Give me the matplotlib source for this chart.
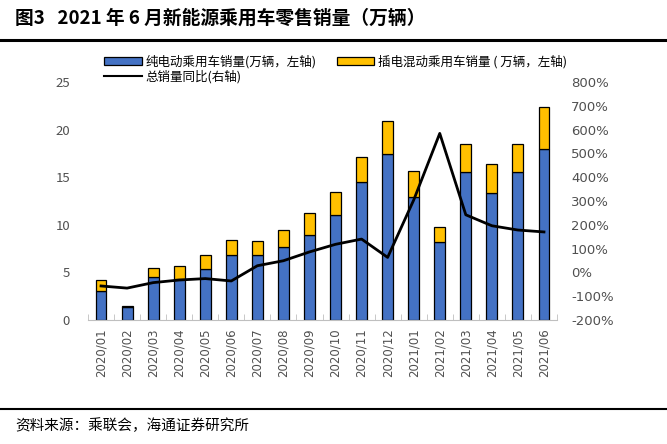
import matplotlib
matplotlib.use("Agg")
import matplotlib.pyplot as plt
import numpy as np
from matplotlib.lines import Line2D
from matplotlib.patches import Patch

plt.rcParams['font.family'] = ['Noto Sans CJK SC', 'DejaVu Sans']

months = ["2020/01", "2020/02", "2020/03", "2020/04", "2020/05", "2020/06",
          "2020/07", "2020/08", "2020/09", "2020/10", "2020/11", "2020/12",
          "2021/01", "2021/02", "2021/03", "2021/04", "2021/05", "2021/06"]
bev = [3.05, 1.4, 4.5, 4.3, 5.35, 6.8, 6.8, 7.65, 8.95, 11.0, 14.5, 17.4,
       12.9, 8.2, 15.5, 13.3, 15.5, 18.0]
total = [4.2, 1.45, 5.5, 5.7, 6.8, 8.4, 8.3, 9.5, 11.2, 13.4, 17.1, 20.9,
         15.65, 9.8, 18.5, 16.35, 18.5, 22.4]
phev = [t - b for t, b in zip(total, bev)]
yoy = [-57, -66, -43, -32, -26, -36, 28, 49, 86, 118, 140, 63,
       304, 584, 242, 196, 178, 170]

fig = plt.figure(figsize=(6.67, 4.44), dpi=100)
ax = fig.add_axes([88/667, 1-320/444, (557-88)/667, (320-82)/444])
x = np.arange(len(months))
w = 0.42
ax.bar(x, bev, w, color='#4472C4', edgecolor='black', linewidth=0.9, zorder=2)
ax.bar(x, phev, w, bottom=bev, color='#FFC000', edgecolor='black', linewidth=0.9, zorder=2)
ax.set_ylim(0, 25)
ax.set_yticks([0, 5, 10, 15, 20, 25])
ax.set_xlim(-0.5, len(months) - 0.5)
ax.set_xticks(x)
ax.set_xticklabels(months, rotation=90, fontsize=8.5, color='#505050', family='DejaVu Sans')
ax.set_xticks(np.arange(-0.5, len(months), 1), minor=True)
ax.tick_params(axis='x', which='major', length=0, pad=6)
ax.tick_params(axis='x', which='minor', length=4, color='#bfbfbf', direction='in')
ax.tick_params(axis='y', length=0, labelsize=9.5, labelcolor='#505050', pad=13)
for s in ['top', 'right', 'left']:
    ax.spines[s].set_visible(False)
ax.spines['bottom'].set_color('#bfbfbf')

ax2 = ax.twinx()
ax2.plot(x, yoy, color='black', linewidth=2, zorder=3)
ax2.set_ylim(-200, 800)
ax2.set_yticks(range(-200, 801, 100))
ax2.set_yticklabels([f"{v}%" for v in range(-200, 801, 100)], family='DejaVu Sans')
ax2.tick_params(axis='y', length=0, labelsize=9.5, labelcolor='#505050', pad=10)
for s in ['top', 'right', 'left', 'bottom']:
    ax2.spines[s].set_visible(False)

h1 = Patch(facecolor='#4472C4', edgecolor='black', linewidth=0.9)
h2 = Patch(facecolor='#FFC000', edgecolor='black', linewidth=0.9)
h3 = Line2D([0], [0], color='black', linewidth=1.5)
fig.legend([h1, h2], ['纯电动乘用车销量(万辆，左轴)', '插电混动乘用车销量 ( 万辆，左轴)'],
           loc='center left', bbox_to_anchor=(98/667, 1-62/444), ncol=2,
           frameon=False, fontsize=9, handlelength=3.0, handleheight=0.6,
           handletextpad=0.3, columnspacing=1.6, borderpad=0)
fig.legend([h3], ['总销量同比(右轴)'], loc='center left', bbox_to_anchor=(98/667, 1-77/444),
           frameon=False, fontsize=9, handlelength=3.0, handletextpad=0.3, borderpad=0)

fig.text(15/667, 1-18/444, '图3   2021 年 6 月新能源乘用车零售销量（万辆）', fontsize=13.5,
         fontweight='bold', va='center', ha='left')
fig.add_artist(Line2D([0, 1], [1-40/444, 1-40/444], color='black', linewidth=2.2))
fig.add_artist(Line2D([0, 1], [1-409/444, 1-409/444], color='black', linewidth=1.5))
fig.text(15/667, 1-426/444, '资料来源：乘联会，海通证券研究所', fontsize=10.5, va='center', ha='left')

fig.savefig('out.png', dpi=100)
